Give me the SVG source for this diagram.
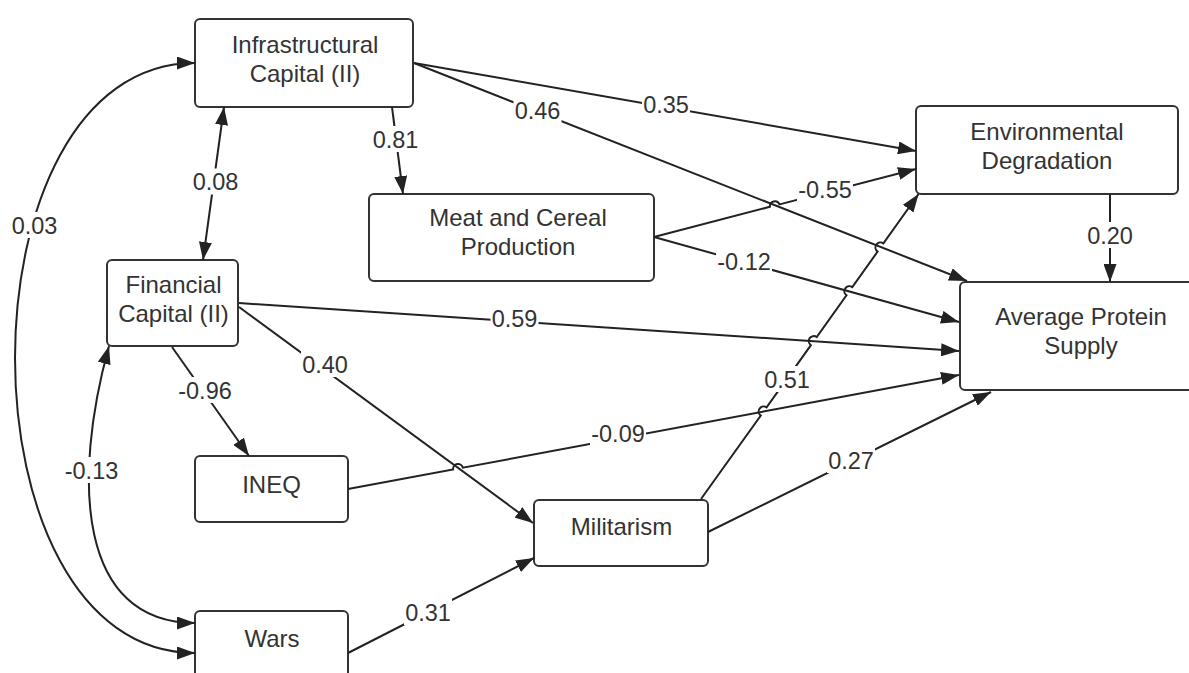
<svg xmlns="http://www.w3.org/2000/svg" width="1189" height="673" viewBox="0 0 1189 673">
<defs>
<marker id="ah" viewBox="0 0 18 13" refX="18" refY="6.5" markerWidth="18" markerHeight="13" markerUnits="userSpaceOnUse" orient="auto-start-reverse">
<path d="M0,0 L18,6.5 L0,13 z" fill="#222"/>
</marker>
<style>
.node rect{fill:#fff;stroke:#333;stroke-width:2}
.node text{font-family:"Liberation Sans",Arial,sans-serif;font-size:24px;fill:#333;text-anchor:middle}
.conn path{fill:none;stroke:#222;stroke-width:2}
.lbl rect{fill:#fff;stroke:none}
.lbl text{font-family:"Liberation Sans",Arial,sans-serif;font-size:23.5px;fill:#333;text-anchor:middle}
</style>
</defs>
<rect width="1189" height="673" fill="#fff"/>

<g id="infrastructural" class="node"><rect x="195" y="19" width="218" height="88" rx="5"/><text x="305" y="53">Infrastructural</text><text x="305" y="81.5">Capital (II)</text></g>
<g id="financial" class="node"><rect x="107" y="260" width="131" height="86" rx="5"/><text x="173.5" y="293">Financial</text><text x="173.5" y="321.5">Capital (II)</text></g>
<g id="meat" class="node"><rect x="369" y="194" width="285" height="87" rx="5"/><text x="518" y="225.5">Meat and Cereal</text><text x="518" y="254.5">Production</text></g>
<g id="environmental" class="node"><rect x="916" y="106" width="262" height="88" rx="5"/><text x="1047" y="140">Environmental</text><text x="1047" y="169">Degradation</text></g>
<g id="protein" class="node"><rect x="960" y="282" width="242" height="108" rx="5"/><text x="1081" y="325">Average Protein</text><text x="1081" y="353.5">Supply</text></g>
<g id="ineq" class="node"><rect x="195" y="456" width="153" height="66" rx="5"/><text x="271.5" y="493">INEQ</text></g>
<g id="wars" class="node"><rect x="195" y="611" width="153" height="80" rx="5"/><text x="272" y="647">Wars</text></g>
<g id="militarism" class="node"><rect x="534" y="500" width="174" height="66" rx="5"/><text x="621.5" y="535">Militarism</text></g>

<g id="connectors" class="conn">
<path d="M195,63 C-45,63 -45,653 195,653" marker-start="url(#ah)" marker-end="url(#ah)"/>
<path d="M109,346 C72,480 78,623 195,623" marker-start="url(#ah)" marker-end="url(#ah)"/>
<path d="M224,107 L203,260" marker-start="url(#ah)" marker-end="url(#ah)"/>
<path d="M392,107 L403,194" marker-end="url(#ah)"/>
<path d="M414,63 L916,151" marker-end="url(#ah)"/>
<path d="M414,63 L967,281" marker-end="url(#ah)"/>
<path d="M654,237 L769.9,206.8 A5,5 0 0 1 779.5,204.4 L916,169" marker-end="url(#ah)"/>
<path d="M654,237 L959,322" marker-end="url(#ah)"/>
<path d="M239,303 L959,351" marker-end="url(#ah)"/>
<path d="M239,307 L533,523" marker-end="url(#ah)"/>
<path d="M172,347 L249,456" marker-end="url(#ah)"/>
<path d="M348,489 L453.1,469.5 A5,5 0 0 1 462.9,467.7 L959,375" marker-end="url(#ah)"/>
<path d="M348,653 L534,558" marker-end="url(#ah)"/>
<path d="M701,499 L760.8,415.6 A5,5 0 0 1 766.6,407.4 L810.9,345.2 A5,5 0 0 1 816.7,337 L846.5,295.3 A5,5 0 0 1 852.3,287.1 L877.6,251.6 A5,5 0 0 1 883.4,243.4 L918.6,194" marker-end="url(#ah)"/>
<path d="M708,532 L991,392" marker-end="url(#ah)"/>
<path d="M1110,194 L1110,282" marker-end="url(#ah)"/>
</g>

<g id="labels" class="lbl">
<rect x="10.5" y="212" width="48" height="26"/><text x="34.5" y="233.5">0.03</text>
<rect x="191.5" y="168.5" width="48" height="26"/><text x="215.5" y="190">0.08</text>
<rect x="371.5" y="126" width="48" height="26"/><text x="395.5" y="147.5">0.81</text>
<rect x="642" y="91" width="48" height="26"/><text x="666" y="112.5">0.35</text>
<rect x="513.5" y="97" width="48" height="26"/><text x="537.5" y="118.5">0.46</text>
<rect x="797" y="176" width="56" height="26"/><text x="825" y="197.5">-0.55</text>
<rect x="716" y="248" width="56" height="26"/><text x="744" y="269.5">-0.12</text>
<rect x="490.5" y="305" width="48" height="26"/><text x="514.5" y="326.5">0.59</text>
<rect x="301" y="351" width="48" height="26"/><text x="325" y="372.5">0.40</text>
<rect x="177" y="377" width="56" height="26"/><text x="205" y="398.5">-0.96</text>
<rect x="63.5" y="457" width="56" height="26"/><text x="91.5" y="478.5">-0.13</text>
<rect x="590" y="420" width="56" height="26"/><text x="618" y="441.5">-0.09</text>
<rect x="404" y="599" width="48" height="26"/><text x="428" y="620.5">0.31</text>
<rect x="763" y="366" width="48" height="26"/><text x="787" y="387.5">0.51</text>
<rect x="827" y="447" width="48" height="26"/><text x="851" y="468.5">0.27</text>
<rect x="1086" y="222" width="48" height="26"/><text x="1110" y="243.5">0.20</text>
</g>
</svg>
